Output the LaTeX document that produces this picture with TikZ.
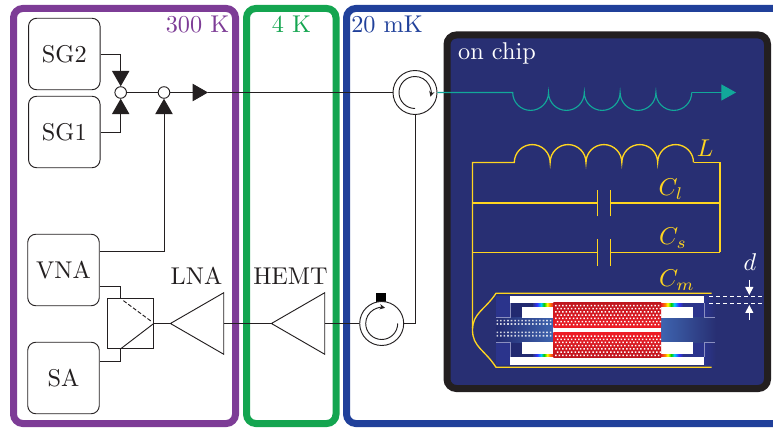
\documentclass[tikz,border=0pt]{standalone}
\usepackage{amsmath}
\usetikzlibrary{arrows.meta,shapes.geometric}
\pgfdeclarelayer{bg}
\pgfsetlayers{bg,main}
\definecolor{inkblack}{RGB}{35,31,32}
\definecolor{hotpurple}{RGB}{125,60,150}
\definecolor{coldgreen}{RGB}{20,165,80}
\definecolor{baseblue}{RGB}{32,64,154}
\definecolor{chipblue}{RGB}{40,47,115}
\definecolor{devblue}{RGB}{43,52,140}
\definecolor{devglow}{RGB}{62,100,175}
\definecolor{readteal}{RGB}{18,168,154}
\definecolor{lumpyellow}{RGB}{255,213,32}
\definecolor{mechred}{RGB}{238,28,37}
\pgfdeclarehorizontalshading{rainbowup}{100bp}{color(0bp)=(devblue); color(25bp)=(devblue); color(35bp)=(blue!80!white); color(45bp)=(cyan!80!blue); color(52bp)=(green!80!black); color(60bp)=(yellow); color(66bp)=(orange); color(75bp)=(mechred); color(100bp)=(mechred)}
\pgfdeclarehorizontalshading{rainbowdown}{100bp}{color(0bp)=(mechred); color(25bp)=(mechred); color(34bp)=(orange); color(40bp)=(yellow); color(48bp)=(green!80!black); color(55bp)=(cyan!80!blue); color(65bp)=(blue!80!white); color(75bp)=(devblue); color(100bp)=(devblue)}
\newcommand{\bigt}[1]{\scalebox{1.82}{#1}}
\tikzset{
        instr/.style={draw=inkblack, line width=0.7pt, rounded corners=6pt, minimum size=53.6pt, inner sep=0pt, text=inkblack},
        port/.style={draw=inkblack, fill=white, line width=0.7pt, circle, minimum size=8.7pt, inner sep=0pt},
        circul/.style={draw=inkblack, fill=white, line width=0.7pt, circle, minimum size=33pt, inner sep=0pt},
        amp/.style={draw=inkblack, line width=0.7pt, isosceles triangle, isosceles triangle apex angle=60, shape border rotate=180, minimum height=40pt, inner sep=0pt, anchor=apex},
        wire/.style={draw=inkblack, line width=0.7pt},
        feed/.style={wire, -{Triangle[length=11.5pt,width=13pt]}},
        spin/.style={wire, -{Stealth[length=4pt,width=4pt]}},
        frame/.style={line width=5.25pt, rounded corners=7pt},
        lump/.style={draw=lumpyellow, line width=1pt},
        tag/.style={inner sep=0pt},
        gauge/.style={draw=white, line width=0.8pt, -{Triangle[length=6pt,width=6pt]}},
        slit/.style={draw=white, line width=0.8pt, dash pattern=on 3pt off 2.25pt},
        edgeline/.style={draw=devblue!55!white, line width=0.5pt}
}
\begin{document}
\begin{tikzpicture}[x=0.75pt,y=0.75pt]
        \useasboundingbox (0,0) rectangle (773,428);
        \begin{pgfonlayer}{bg}
                \draw[frame, draw=hotpurple] (13.5,4.5) rectangle (235.5,419.5);
                \draw[frame, draw=coldgreen] (246.5,4.5) rectangle (336,419.5);
                \draw[frame, draw=baseblue] (773,419.5) -- (346.5,419.5) -- (346.5,4.5) -- (773,4.5);
                \draw[frame, draw=inkblack, fill=chipblue] (447,39.5) rectangle (767.5,393);
        \end{pgfonlayer}

        \node[tag, text=hotpurple] (t300) at (197.5,404) {\bigt{300 K}};
        \node[tag, text=coldgreen] (t4) at (291.5,404) {\bigt{4 K}};
        \node[tag, text=baseblue] (t20) at (387,404) {\bigt{20 mK}};
        \node[tag, text=white] (tchip) at (497,375) {\bigt{on chip}};

        \node[instr] (sg2) at (64.3,374) {\bigt{SG2}};
        \node[instr] (sg1) at (64.3,296) {\bigt{SG1}};
        \node[instr] (vna) at (63.5,158) {\bigt{VNA}};
        \node[instr] (sa) at (63.5,50) {\bigt{SA}};
        \node[port] (mix) at (120.7,335.5) {};
        \node[port] (sum) at (164,335.5) {};
        \coordinate (drive) at (208,335.5);
        \node[draw=inkblack, line width=0.7pt, minimum width=34.5pt, minimum height=38pt, inner sep=0pt] (split) at (130.3,104.5) {};
        \node[amp] (lna) at (169.5,104.5) {};
        \node[amp] (hemt) at (270.5,104.5) {};
        \node[tag, text=inkblack] (tlna) at (196.5,152) {\bigt{LNA}};
        \node[tag, text=inkblack] (themt) at (290.5,152) {\bigt{HEMT}};
        \node[fill=black, minimum size=7.3pt, inner sep=0pt] (iso) at (380.8,129.9) {};
        \node[circul] (circt) at (415,335.5) {};
        \node[circul] (circb) at (381.7,104.5) {};

        \draw[feed] (sg2.east) -| (mix);
        \draw[feed] (sg1.east) -| (mix);
        \draw[wire] (mix) -- (sum);
        \draw[feed] (sum) -- (drive);
        \draw[wire] (drive) -- (circt);
        \draw[feed] ([yshift=14.25pt]vna.east) -| (sum);
        \draw[wire] ([yshift=-12pt]vna.east) -| ([xshift=-7.7pt]split.north);
        \draw[wire] ([yshift=12.75pt]sa.east) -| ([xshift=-7.7pt]split.south);
        \draw[wire] ([xshift=-7.7pt]split.south) -- (split.east);
        \draw[wire, dashed, dash pattern=on 3pt off 1.5pt] ([shift={(-5.2pt,-2.2pt)}]split.north) -- ([shift={(-1.7pt,1.5pt)}]split.east);
        \draw[wire] (split.east) -- (lna.apex);
        \draw[wire] (lna.lower side) -- (hemt.apex);
        \draw[wire] (hemt.lower side) -- (circb);
        \draw[wire] (circb.east) -| (circt.south);
        \draw[spin] ([yshift=-12pt]circt.center) arc (-90:-375:12pt);
        \draw[spin] ([xshift=12pt]circb.center) arc (0:-282:12pt);

        \coordinate (lra) at (512.7,335.5);
        \coordinate (lrb) at (736,335.5);
        \draw[draw=readteal, line width=0.85pt] (circt.east) -- (lra) \foreach \n in {1,...,5} { arc (180:360:17.9) };
        \draw[draw=readteal, line width=0.85pt, -{Triangle[length=11pt,width=12pt]}] (691.7,335.5) -- (lrb);

        \coordinate (lt) at (472.5,265.5);
        \coordinate (rt) at (720,265.5);
        \coordinate (lb) at (472.5,100);
        \coordinate (rb) at (720,175.5);
        \draw[lump] (rb) -- (rt) -- (693.5,265.5);
        \draw[lump] (lb) -- (lt) -- (514.3,265.5) \foreach \n in {1,...,5} { arc (180:0:17.92) };
        \foreach \ny/\nm in {225/cl,175.5/cs} {
                \coordinate (\nm a) at (597.5,\ny);
                \coordinate (\nm b) at (610.5,\ny);
                \draw[lump] (472.5,\ny) -- (\nm a) (\nm b) -- (720,\ny);
                \draw[lump] ([yshift=-10pt]\nm a) -- ([yshift=10pt]\nm a);
                \draw[lump] ([yshift=-10pt]\nm b) -- ([yshift=10pt]\nm b);
        }
        \node[tag, text=lumpyellow] (tl) at (705,280) {\bigt{$L$}};
        \node[tag, text=lumpyellow] (tcl) at (671,239) {\bigt{$C_l$}};
        \node[tag, text=lumpyellow] (tcs) at (673,190) {\bigt{$C_s$}};
        \node[tag, text=lumpyellow] (tcm) at (677,148) {\bigt{$C_m$}};

        \fill[devblue] (496,63) rectangle (704.3,132);
        \shade[left color=devblue, right color=chipblue] (704.3,63) rectangle (716,132);
        \fill[devblue!80!black] (510,63) rectangle (553.3,132);
        \shade[left color=devblue!80!black, right color=devglow] (496,86) rectangle (553.3,110);
        \shade[left color=devglow, right color=chipblue] (661,86) rectangle (716,110);
        \fill[white] (510,124.7) rectangle (704.3,132);
        \fill[white] (510,63) rectangle (704.3,71.3);
        \foreach \wx in {522,661} {
                \fill[white] (\wx,110) rectangle ++(31.5,11.3);
                \fill[white] (\wx,74) rectangle ++(31.5,11.7);
        }
        \shade[shading=rainbowup] (533,121.3) rectangle (553.3,124.7);
        \shade[shading=rainbowup] (533,71.3) rectangle (553.3,74);
        \shade[shading=rainbowdown] (661,121.3) rectangle (683,124.7);
        \shade[shading=rainbowdown] (661,71.3) rectangle (683,74);
        \draw[edgeline] (510,124.7) -- (510,111) -- (496,111);
        \draw[edgeline] (510,71.3) -- (510,86) -- (496,86);
        \draw[edgeline] (704.3,124.7) -- (704.3,111) -- (715,111);
        \draw[edgeline] (704.3,71.3) -- (704.3,86) -- (715,86);
        \fill[white] (553.3,95) rectangle (661,101);
        \shade[top color=mechred!80!black, bottom color=mechred] (553.3,100.7) rectangle (661,125.7);
        \shade[top color=mechred, bottom color=mechred!80!black] (553.3,70.5) rectangle (661,95.3);
        \fill[white] \foreach \yb in {102.5,72} { \foreach \r in {0,...,6} { \foreach \c in {0,...,29} {
                ({555+3.55*\c+1.77*mod(\r,2)},{\yb+3.2*\r}) rectangle ++(1.5,1.5)
        } } };
        \fill[white, opacity=0.8] \foreach \ry in {106.5,103.2,94.8,91.5} { \foreach \c in {0,...,15} {
                ({496.5+3.55*\c},{\ry}) rectangle ++(1.6,1.6)
        } };

        \coordinate (cmtl) at (496,134.7);
        \coordinate (cmtr) at (711.7,134.7);
        \coordinate (cmbl) at (496,60.7);
        \coordinate (cmbr) at (711.7,60.7);
        \draw[lump] (cmtr) -- (cmtl) .. controls (485,118) and (472.5,115) .. (472.5,98) .. controls (472.5,81) and (485,78) .. (cmbl) -- (cmbr);

        \coordinate (dla) at (709,131.3);
        \coordinate (dlb) at (761.7,131.3);
        \coordinate (dra) at (709,124.3);
        \coordinate (drb) at (761.7,124.3);
        \draw[slit] (dla) -- (dlb);
        \draw[slit] (dra) -- (drb);
        \coordinate (dua) at (749.3,148);
        \coordinate (dub) at (749.3,133);
        \coordinate (dda) at (749.3,108);
        \coordinate (ddb) at (749.3,123);
        \draw[gauge] (dua) -- (dub);
        \draw[gauge] (dda) -- (ddb);
        \node[tag, text=white] (td) at (750,166) {\bigt{$d$}};
\end{tikzpicture}
\end{document}
